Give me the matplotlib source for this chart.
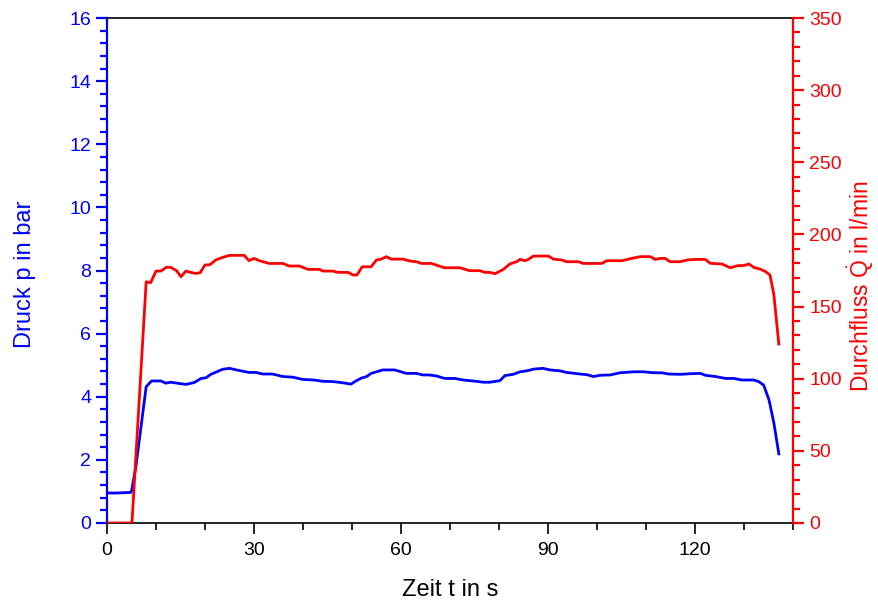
import matplotlib
matplotlib.use("Agg")
import matplotlib.pyplot as plt
from matplotlib.ticker import MultipleLocator

plt.rcParams["font.family"] = ["Liberation Sans", "DejaVu Sans"]
plt.rcParams["mathtext.fontset"] = "custom"
plt.rcParams["mathtext.rm"] = "Liberation Sans"

# pressure curve (time in s, pressure in bar)
t_p = [0, 2, 4.9, 5.0, 5.9, 8.0, 9.1, 11.0, 12.0, 13.0, 16.1, 17.8, 19.2, 20.2, 21.2,
       23.6, 25.0, 26.4, 29.0, 30.4, 31.8, 33.8, 35.9, 37.9, 39.9, 42.3, 44.0, 46.1,
       47.8, 49.8, 50.9, 51.9, 53.0, 53.9, 55.0, 56.3, 58.7, 61.1, 63.1, 64.5, 65.8,
       67.2, 68.9, 71.0, 72.7, 74.7, 76.8, 78.1, 80.2, 81.2, 82.9, 84.3, 85.6, 87.3,
       89.0, 90.4, 92.5, 93.8, 96.5, 97.9, 99.3, 100.6, 102.7, 104.7, 107.4, 109.5,
       111.5, 113.2, 114.6, 117.0, 119.0, 121.1, 122.1, 124.2, 126.2, 127.9, 129.6,
       132.0, 133.0, 134.0, 135.1, 136.1, 137.1]
p_bar = [0.95, 0.95, 0.97, 1.0, 1.78, 4.32, 4.5, 4.5, 4.43, 4.46, 4.39, 4.45, 4.58, 4.6,
         4.71, 4.87, 4.9, 4.85, 4.77, 4.77, 4.72, 4.72, 4.64, 4.62, 4.55, 4.53, 4.49,
         4.48, 4.45, 4.4, 4.51, 4.59, 4.64, 4.74, 4.79, 4.85, 4.85, 4.74, 4.74, 4.69,
         4.69, 4.66, 4.58, 4.58, 4.53, 4.5, 4.46, 4.46, 4.51, 4.67, 4.71, 4.79, 4.82,
         4.88, 4.9, 4.85, 4.82, 4.77, 4.72, 4.7, 4.64, 4.68, 4.69, 4.76, 4.79, 4.79,
         4.76, 4.76, 4.72, 4.71, 4.73, 4.74, 4.68, 4.64, 4.58, 4.58, 4.53, 4.53, 4.48,
         4.37, 3.9, 3.16, 2.19]

# flow curve (time in s, flow in l/min)
t_q = [0, 5.1, 8.0, 8.9, 10.0, 11.0, 12.1, 13.0, 14.2, 15.1, 16.1, 17.1, 18.1, 19.0,
       20.0, 21.0, 22.2, 23.6, 25.0, 28.0, 29.0, 30.0, 31.1, 33.1, 35.9, 37.2, 39.3,
       41.0, 43.4, 44.0, 46.1, 47.1, 49.2, 50.2, 51.0, 52.1, 53.9, 55.0, 56.0, 57.0,
       58.0, 60.4, 61.8, 63.1, 64.2, 66.2, 67.6, 68.9, 72.0, 74.0, 76.1, 77.1, 78.1,
       79.2, 80.9, 82.2, 83.6, 84.3, 85.3, 86.0, 87.0, 90.1, 91.1, 92.8, 93.8, 96.2,
       97.2, 101.0, 102.0, 105.1, 107.1, 108.8, 110.9, 111.9, 112.9, 113.9, 114.9,
       117.0, 118.4, 120.1, 122.1, 123.1, 125.5, 127.2, 128.6, 130.0, 131.0, 132.0,
       133.4, 134.4, 135.3, 136.1, 137.1]
q_lmin = [0, 0, 167.2, 166.5, 174.6, 174.6, 177.2, 177.2, 174.9, 170.7, 174.6, 173.7,
          173.0, 173.4, 178.8, 179.0, 182.3, 184.1, 185.5, 185.5, 181.8, 183.4, 181.8,
          179.9, 179.9, 178.1, 178.1, 175.8, 175.8, 174.6, 174.6, 173.7, 173.7, 171.9,
          171.9, 177.6, 177.6, 182.3, 182.9, 184.6, 182.9, 182.9, 181.6, 181.1, 179.9,
          179.9, 178.3, 176.9, 176.9, 174.9, 174.9, 173.7, 173.7, 172.8, 175.8, 179.5,
          181.1, 182.7, 181.8, 182.7, 185.0, 185.0, 182.9, 182.3, 181.1, 181.1, 179.9,
          179.9, 181.8, 181.8, 183.4, 184.6, 184.6, 182.7, 183.4, 183.4, 181.1, 181.1,
          182.3, 182.7, 182.7, 180.0, 179.5, 176.9, 178.3, 178.5, 179.5, 177.2, 175.8,
          174.2, 171.9, 158.0, 124.0]

blue = "#0000ff"
red = "#ff0000"

fig = plt.figure(figsize=(8.79, 6.03), dpi=100)
ax = fig.add_axes([0.1217, 0.1327, 0.7805, 0.8374])
ax2 = ax.twinx()

ax.plot(t_p, p_bar, color=blue, lw=2.0, zorder=3)
ax2.plot(t_q, q_lmin, color=red, lw=2.0, zorder=3)

ax.set_xlim(0, 140)
ax.set_ylim(0, 16)
ax2.set_ylim(0, 350)

ax.xaxis.set_major_locator(MultipleLocator(30))
ax.xaxis.set_minor_locator(MultipleLocator(10))
ax.yaxis.set_major_locator(MultipleLocator(2))
ax.yaxis.set_minor_locator(MultipleLocator(0.4))
ax2.yaxis.set_major_locator(MultipleLocator(50))
ax2.yaxis.set_minor_locator(MultipleLocator(10))

# spines: coloured value axes, black time axis
ax.spines["left"].set_color(blue)
ax.spines["left"].set_linewidth(1.6)
ax2.spines["left"].set_visible(False)
ax2.spines["right"].set_color(red)
ax2.spines["right"].set_linewidth(1.6)
ax.spines["right"].set_visible(False)
for s in ("top", "bottom"):
    ax.spines[s].set_linewidth(1.2)
    ax.spines[s].set_color("black")
    ax2.spines[s].set_visible(False)

ax.tick_params(axis="x", which="major", length=8, width=1.2, labelsize=14, pad=6)
ax.tick_params(axis="x", which="minor", length=5, width=1.2)
ax.tick_params(axis="y", which="major", length=8, width=1.6, colors=blue, labelsize=14)
ax.tick_params(axis="y", which="minor", length=5, width=1.6, colors=blue)
ax2.tick_params(axis="y", which="major", length=8, width=1.6, colors=red, labelsize=14)
ax2.tick_params(axis="y", which="minor", length=5, width=1.6, colors=red)

ax.set_xlabel("Zeit t in s", fontsize=17)
ax.set_ylabel("Druck p in bar", fontsize=17, color=blue)
ax2.set_ylabel(r"Durchfluss $\dot{\mathrm{Q}}$ in l/min", fontsize=16.5, color=red)
ax.xaxis.set_label_coords(0.5, -0.111)
ax.yaxis.set_label_coords(-0.104, 0.493)
ax2.yaxis.set_label_coords(1.077, 0.468)

fig.savefig("out.png", dpi=100)
